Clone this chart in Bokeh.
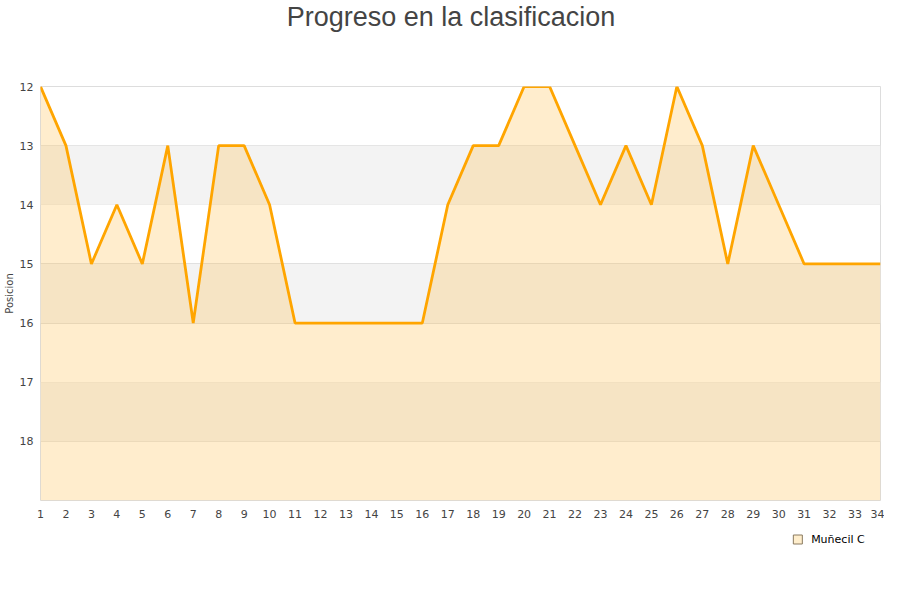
from bokeh.plotting import figure
from bokeh.layouts import column
from bokeh.models import Range1d, FixedTicker, BoxAnnotation, ColumnDataSource
from bokeh.core.properties import value
from bokeh.embed import file_html
from bokeh.resources import INLINE

title = "Progreso en la clasificacion"
y_label = "Posicion"
series_name = "Muñecil C"
jornadas = list(range(1, 35))
posiciones = [12, 13, 15, 14, 15, 13, 16, 13, 13, 14,
              16, 16, 16, 16, 16, 16, 14, 13, 13, 12,
              12, 13, 14, 13, 14, 12, 13, 15, 13, 14,
              15, 15, 15, 15]
y_ticks = [12, 13, 14, 15, 16, 17, 18]
y_bottom = 19
band_starts = [13, 15, 17]

W = 884


def bare(fig):
    fig.axis.visible = False
    fig.grid.visible = False
    fig.outline_line_color = None
    fig.background_fill_color = "white"
    fig.border_fill_color = "white"
    return fig


# title strip
TH = 52
tfig = bare(figure(width=W, height=TH, output_backend="svg", toolbar_location=None,
                   x_range=Range1d(0, W), y_range=Range1d(0, TH),
                   min_border=0))
tfig.text(x=[432], y=[TH - 16], text=[title], text_align="center", text_baseline="middle",
          text_font=value("Liberation Sans"), text_font_size="27px", text_color="#444444")

# main chart
p = figure(frame_width=840, frame_height=414, output_backend="svg", toolbar_location=None,
           x_range=Range1d(1, 34), y_range=Range1d(y_bottom, 12),
           min_border_left=0, min_border_right=4, min_border_top=34, min_border_bottom=24)
p.outline_line_color = "#dddddd"
p.background_fill_color = "white"
p.border_fill_color = "white"

for b in band_starts:
    p.add_layout(BoxAnnotation(bottom=b, top=b + 1, fill_color="#f3f3f3", fill_alpha=1.0,
                               line_color=None, level="underlay"))

src = ColumnDataSource(dict(x=jornadas, y=posiciones, y0=[y_bottom] * len(jornadas)))
p.varea(x="x", y1="y", y2="y0", source=src, fill_color="#ffc04d", fill_alpha=0.28)
p.line(x="x", y="y", source=src, line_color="#ffa500", line_width=2.8)

p.xaxis.ticker = FixedTicker(ticks=jornadas)
p.yaxis.ticker = FixedTicker(ticks=y_ticks)
for ax in (p.xaxis[0], p.yaxis[0]):
    ax.axis_line_color = None
    ax.major_tick_line_color = None
    ax.minor_tick_line_color = None
    ax.major_tick_out = 0
    ax.major_tick_in = 0
    ax.minor_tick_out = 0
    ax.minor_tick_in = 0
    ax.major_label_text_font = "DejaVu Sans"
    ax.major_label_text_font_size = "11px"
    ax.major_label_text_color = "#444444"
p.xaxis.major_label_standoff = 9
p.yaxis.major_label_standoff = 7
p.yaxis.axis_label = y_label
p.yaxis.axis_label_text_font = "DejaVu Sans"
p.yaxis.axis_label_text_font_size = "10px"
p.yaxis.axis_label_text_font_style = "normal"
p.yaxis.axis_label_text_color = "#444444"
p.yaxis.axis_label_standoff = 2

p.xgrid.grid_line_color = None
p.ygrid.ticker = FixedTicker(ticks=y_ticks + [y_bottom])
p.ygrid.grid_line_color = "#e0e0e0"
p.ygrid.grid_line_alpha = 1.0

# legend strip
LH = 34
lfig = bare(figure(width=W, height=LH, output_backend="svg", toolbar_location=None,
                   x_range=Range1d(0, W), y_range=Range1d(0, LH),
                   min_border=0))
lfig.scatter(x=[797], y=[LH - 15], marker="square", size=9, fill_color="#ffeecc",
             line_color="#8a7a60", line_width=1)
lfig.text(x=[811], y=[LH - 15], text=[series_name], text_align="left", text_baseline="middle",
          text_font=value("DejaVu Sans"), text_font_size="11px", text_color="#000000")

layout = column(tfig, p, lfig, spacing=0)

open("out.html", "w").write(file_html(layout, INLINE))
